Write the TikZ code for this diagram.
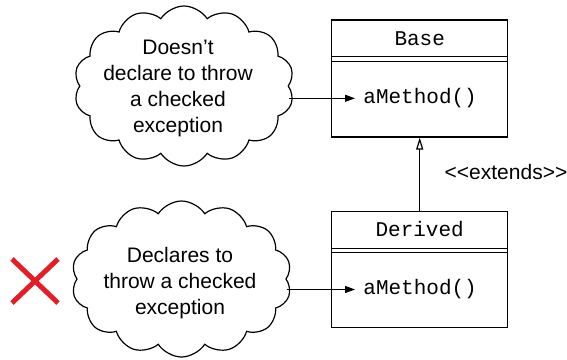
\documentclass[tikz,border=0pt]{standalone}
\usepackage{fontspec}
\setmainfont{Liberation Sans}
\setmonofont{Liberation Mono}
\usepackage{xcolor}
\usetikzlibrary{arrows.meta, calc, positioning, shapes.symbols}
\definecolor{crossred}{RGB}{226,30,40}

\begin{document}
\begin{tikzpicture}[x=0.5pt, y=-0.5pt,
    bubble/.style={draw, cloud, cloud puffs=14, cloud puff arc=115,
        minimum width=110pt, minimum height=80pt, inner sep=0pt, line width=0.6pt},
    bubbletext/.style={align=center, inner sep=0pt, font=\fontsize{10.5}{13}\selectfont},
    classbox/.style={draw, line width=0.7pt, minimum width=88pt, inner sep=0pt},
    mono/.style={font=\ttfamily\fontsize{10.5}{13}\selectfont, inner sep=0pt},
    calls/.style={line width=0.6pt, -{Stealth[length=5pt, width=3.5pt, inset=0pt]}}]
    \useasboundingbox (0,0) rectangle (567,359);

    % classes
    \node[classbox, minimum height=58.4pt, anchor=north] (base) at (419.7,19.3) {};
    \node[mono] (baseName) at (419.7,39) {Base};
    \draw[line width=0.7pt] ($(base.north west)+(0,37.4)$) -- ($(base.north east)+(0,37.4)$);
    \draw[line width=0.7pt] ($(base.north west)+(0,42.2)$) -- ($(base.north east)+(0,42.2)$);
    \node[mono, anchor=west, inner xsep=4pt] (baseMethod) at (355,98.3) {aMethod()};

    \node[classbox, minimum height=58pt, anchor=north] (derived) at (419.7,210.7) {};
    \node[mono] (derivedName) at (419.7,229) {Derived};
    \draw[line width=0.7pt] ($(derived.north west)+(0,37.6)$) -- ($(derived.north east)+(0,37.6)$);
    \draw[line width=0.7pt] ($(derived.north west)+(0,42)$) -- ($(derived.north east)+(0,42)$);
    \node[mono, anchor=west, inner xsep=4pt] (derivedMethod) at (355,289.5) {aMethod()};

    \draw[line width=0.6pt, -{Triangle[open, length=6pt, width=3.5pt]}] (derived.north) -- (base.south);
    \node[font=\fontsize{10.5}{13}\selectfont] (extendsLabel) at (506,171.7) {{<}{<}extends{>}{>}};

    % clouds
    \node[bubble] (noThrows) at (184,86) {};
    \node[bubbletext] (noThrowsText) at (178,88.5) {Doesn't\\declare to throw\\a checked\\exception};
    \node[bubble, minimum height=78pt] (throws) at (181.5,279) {};
    \node[bubbletext] (throwsText) at (180,283.5) {Declares to\\throw a checked\\exception};
    \draw[calls] (baseMethod.west -| noThrows.east) -- (baseMethod.west);
    \draw[calls] (derivedMethod.west -| throws.east) -- (derivedMethod.west);

    \draw[crossred, line width=2.5pt] (12,259) -- (58,303) (58,259) -- (12,303);
\end{tikzpicture}
\end{document}
